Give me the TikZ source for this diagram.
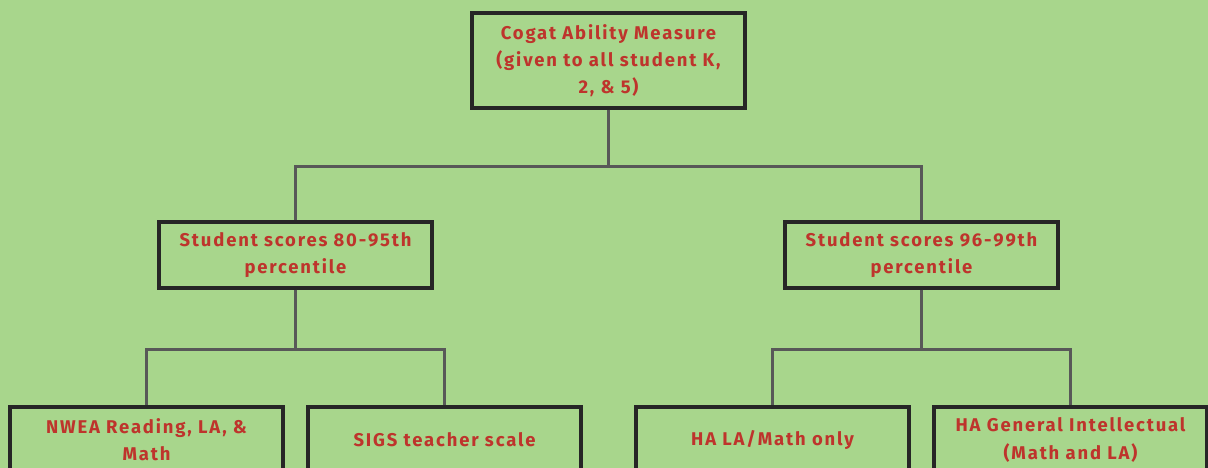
\documentclass[tikz,border=0pt]{standalone}
\usepackage{fontspec}
\setmainfont{Fira Sans}[LetterSpace=10]
\usetikzlibrary{calc}

\definecolor{fundo}{RGB}{168,214,140}
\definecolor{texto}{RGB}{190,52,44}
\definecolor{linha}{RGB}{88,88,88}

\tikzset{
  caixa/.style={draw=black!85, line width=1.8pt, minimum width=5.46cm,
    minimum height=1.32cm, inner sep=0pt, align=center,
    text=texto, font=\bfseries\fontsize{10.5}{15.5}\selectfont},
  ligacao/.style={draw=linha, line width=1.6pt}
}

\begin{document}
\begin{tikzpicture}

        \useasboundingbox (0,0) rectangle (24.16,9.36);
        \fill[fundo] (0,0) rectangle (24.16,9.36);
        \clip (0,0) rectangle (24.16,9.36);

        % caixa do topo
        \node[caixa, minimum height=1.9cm] (cogat) at (12.17,8.15)
            {Cogat Ability Measure\\(given to all student K,\\2, \& 5)};

        % segundo nivel
        \node[caixa] (baixo) at (5.91,4.26) {Student scores 80-95th\\percentile};
        \node[caixa] (alto) at (18.43,4.26) {Student scores 96-99th\\percentile};

        % terceiro nivel
        \node[caixa] (nwea) at (2.93,0.56) {NWEA Reading, LA, \&\\Math};
        \node[caixa] (sigs) at (8.89,0.56) {SIGS teacher scale};
        \node[caixa] (haMath) at (15.45,0.56) {HA LA/Math only};
        \node[caixa] (haGeral) at (21.41,0.56) {HA General Intellectual\\(Math and LA)};

        % pontos de juncao
        \coordinate (J1) at ($(cogat.south)+(0,-1.14)$);
        \coordinate (J2) at ($(baixo.south)+(0,-1.2)$);
        \coordinate (J3) at ($(alto.south)+(0,-1.2)$);

        \draw[ligacao] (cogat.south) -- (J1) -| (baixo.north);
        \draw[ligacao] (J1) -| (alto.north);
        \draw[ligacao] (baixo.south) -- (J2) -| (nwea.north);
        \draw[ligacao] (J2) -| (sigs.north);
        \draw[ligacao] (alto.south) -- (J3) -| (haMath.north);
        \draw[ligacao] (J3) -| (haGeral.north);
    \end{tikzpicture}
\end{document}
